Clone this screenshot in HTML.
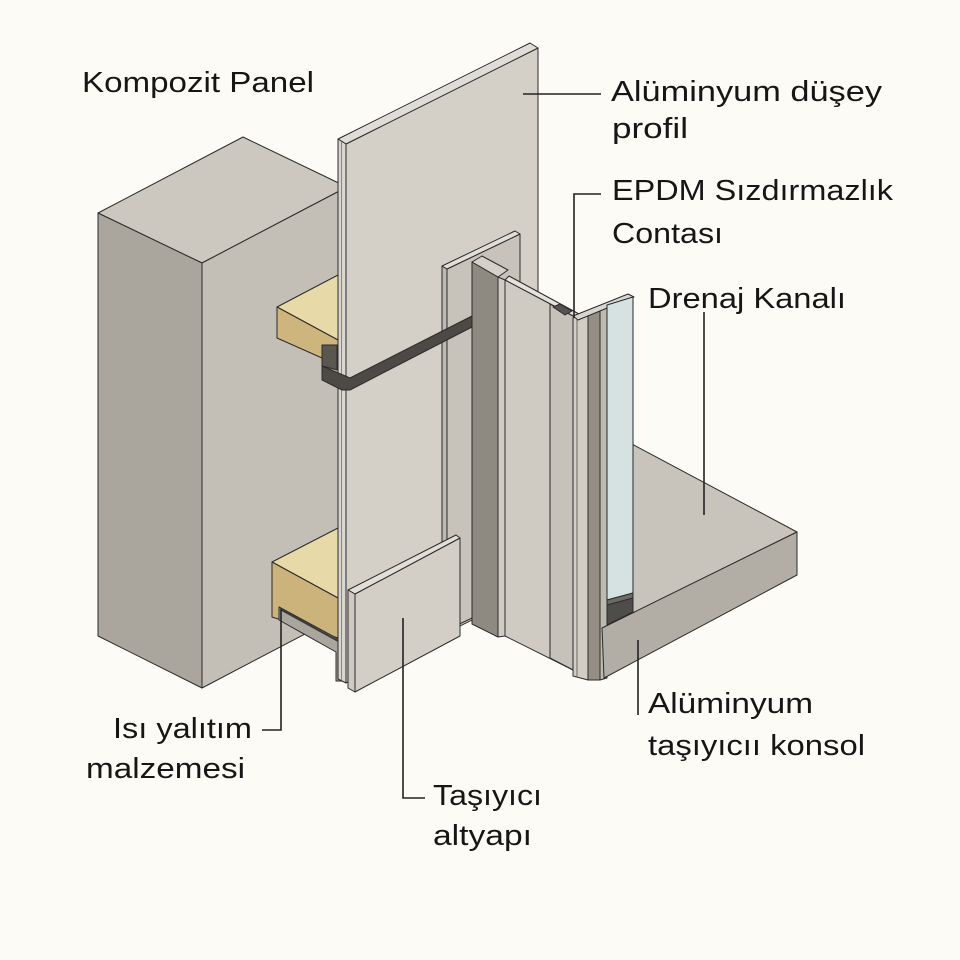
<!DOCTYPE html>
<html><head><meta charset="utf-8"><style>
html,body{margin:0;padding:0;background:#fcfbf5;}
svg{display:block;}
text{font-family:"Liberation Sans","DejaVu Sans",sans-serif;font-size:29px;fill:#161616;}
</style></head><body>
<svg width="960" height="960" viewBox="0 0 960 960" xmlns="http://www.w3.org/2000/svg">
<rect width="960" height="960" fill="#fcfbf5"/>
<g stroke="#2b2b2b" stroke-width="1" stroke-linejoin="round">
<!-- column -->
<polygon points="98,213 243,137 347,187 202,263" fill="#ccc8bf"/>
<polygon points="98,213 202,263 202,688 98,636" fill="#aaa69d"/>
<polygon points="202,263 347,187 347,612 202,688" fill="#c3bfb6"/>
<!-- upper insulation -->
<polygon points="277,307 338,275 338,340" fill="#e8d9a9"/>
<polygon points="277,307 338,340 338,345 322,345 322,358 277,338" fill="#cdb57d"/>
<!-- lower insulation -->
<polygon points="272,562 338,528 338,598" fill="#e8d9a9"/>
<polygon points="272,562 338,598 338,638 272,617" fill="#cbb37b"/>
<polygon points="279,607 342,641 342,681 336,681 336,652 279,620" fill="#aaa69e"/>
<line x1="280" y1="609" x2="340" y2="642" stroke="#3a3a3a" stroke-width="2"/>
<!-- slab top -->
<polygon points="600,427 797,532 602,628 600,627" fill="#c8c4bb"/>
<!-- big panel -->
<polygon points="346,144 538,48 538,587 346,683" fill="#d4d0c8"/>
<polygon points="338,139 530,43 538,48 346,144" fill="#e0ddd6"/>
<polygon points="338,139 346,144 346,683 338,679" fill="#d9d6cf"/>
<line x1="341.5" y1="142" x2="341.5" y2="680" stroke="#8a867e"/>
<!-- back frame -->
<polygon points="447,269 520,234 520,595 447,630" fill="#c7c3ba"/>
<polygon points="442,266 447,269 447,630 442,627" fill="#bdb9b0"/>
<polygon points="442,266 515,231 520,234 447,269" fill="#e2dfd8"/>
<!-- lower small panel -->
<polygon points="355,594 460,538 460,636 355,692" fill="#d3cfc7"/>
<polygon points="348,590 456,535 460,538 355,594" fill="#e2dfd8"/>
<polygon points="348,590 355,594 355,692 348,688" fill="#cfcbc3"/>
<!-- dark bracket -->
<polygon points="322,345 337,345 337,370 322,366" fill="#5a5750"/>
<polygon points="322,366 350,378 472,316 472,327 350,390 342,390 322,380" fill="#4d4a45"/>
<!-- dark bar -->
<polygon points="472,262 498,277 498,637 472,624" fill="#8f8a81"/>
<polygon points="472,262 482,256 508,270 498,277" fill="#d5d1c9"/>
<polygon points="498,277 505,280 505,636 498,637" fill="#d0ccc4"/>
<!-- door panel -->
<polygon points="505,280 577,318 577,672 505,636" fill="#cfcbc3"/>
<polygon points="550,304 577,318 577,672 550,658" fill="#c6c1b9"/>
<polygon points="505,280 509,276 579,314 577,318" fill="#e5e2dc"/>
<polygon points="553,307 560,304 572,311 565,315" fill="#555250"/>
<!-- vertical strips -->
<polygon points="573,318 588,312 588,680 573,676" fill="#d2cec6"/>
<line x1="577" y1="317" x2="577" y2="677" stroke="#6e6a63"/>
<polygon points="588,312 600,307 600,680 588,680" fill="#948e85"/>
<polygon points="600,307 607,305 607,678 600,680" fill="#bfbab1"/>
<polygon points="573,316 628,294 634,297 578,320" fill="#d9d6cf"/>
<!-- glass -->
<polygon points="607,305 633,297 633,597 607,600" fill="#d6e2e2"/>
<polygon points="607,600 633,593 633,612 607,625" fill="#4f4d49"/>
<polygon points="607,600 633,593 633,598 607,605" fill="#6d6a64"/>
<!-- slab front -->
<polygon points="602,628 797,532 797,575 604,678" fill="#b3aea5"/>
</g>
<!-- connectors -->
<g stroke="#222" stroke-width="1.6" fill="none">
<line x1="523" y1="94" x2="601" y2="94"/>
<polyline points="601,194 574,194 574,318"/>
<line x1="704" y1="312" x2="704" y2="515"/>
<line x1="638" y1="640" x2="638" y2="715"/>
<polyline points="281,610 281,730 262,730"/>
<polyline points="403,618 403,798 425,798"/>
</g>
<!-- labels -->
<text x="82" y="92" textLength="232" lengthAdjust="spacingAndGlyphs">Kompozit Panel</text>
<text x="611" y="101" textLength="271" lengthAdjust="spacingAndGlyphs">Alüminyum düşey</text>
<text x="612" y="138" textLength="76" lengthAdjust="spacingAndGlyphs">profil</text>
<text x="612" y="200" textLength="281" lengthAdjust="spacingAndGlyphs">EPDM Sızdırmazlık</text>
<text x="612" y="243" textLength="111" lengthAdjust="spacingAndGlyphs">Contası</text>
<text x="648" y="308" textLength="198" lengthAdjust="spacingAndGlyphs">Drenaj Kanalı</text>
<text x="648" y="713" textLength="165" lengthAdjust="spacingAndGlyphs">Alüminyum</text>
<text x="648" y="755" textLength="217" lengthAdjust="spacingAndGlyphs">taşıyıcıı konsol</text>
<text x="113" y="738" textLength="139" lengthAdjust="spacingAndGlyphs">Isı yalıtım</text>
<text x="86" y="778" textLength="159" lengthAdjust="spacingAndGlyphs">malzemesi</text>
<text x="433" y="805" textLength="109" lengthAdjust="spacingAndGlyphs">Taşıyıcı</text>
<text x="433" y="845" textLength="99" lengthAdjust="spacingAndGlyphs">altyapı</text>
</svg>
</body></html>
